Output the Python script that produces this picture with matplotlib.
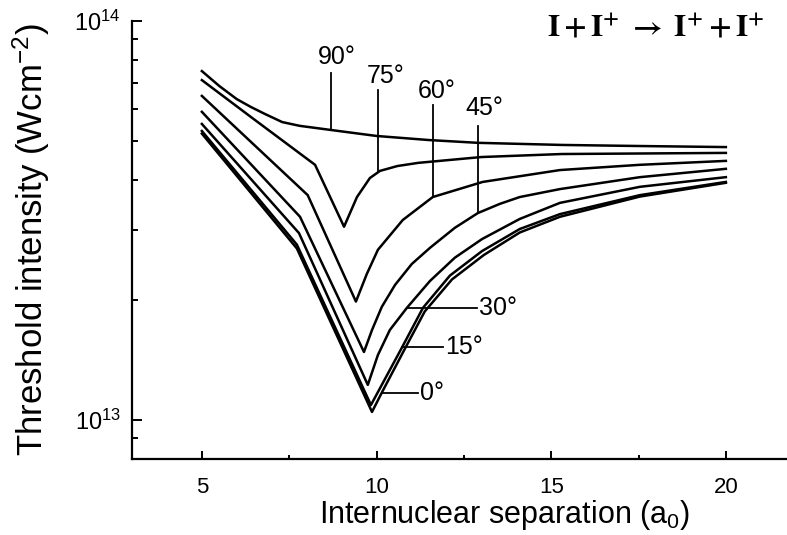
import numpy as np
import matplotlib
matplotlib.use("Agg")
import matplotlib.pyplot as plt
from matplotlib.ticker import FixedLocator, NullFormatter

plt.rcParams['font.family'] = ['Liberation Sans', 'DejaVu Sans']
plt.rcParams['mathtext.fontset'] = 'custom'
plt.rcParams['mathtext.rm'] = 'Liberation Sans'
plt.rcParams['mathtext.it'] = 'Liberation Sans:italic'
plt.rcParams['mathtext.bf'] = 'Liberation Sans:bold'

# Threshold intensity (in units of 1e13 W/cm^2) versus internuclear separation (a0)
# for several alignment angles of the molecular axis.
sep_90 = [5.0, 5.5, 6.0, 6.4, 6.8, 7.3, 7.8, 8.7, 10.0, 11.5, 12.9, 15.3, 17.5, 20.0]
thr_90 = [7.49, 6.87, 6.37, 6.09, 5.85, 5.58, 5.46, 5.33, 5.15, 5.03, 4.95, 4.89, 4.86, 4.83]

sep_75 = [5.0, 6.4, 8.24, 9.07, 9.44, 9.81, 10.1, 10.6, 11.2, 13.0, 15.3, 20.0]
thr_75 = [7.11, 5.75, 4.36, 3.05, 3.62, 4.04, 4.21, 4.33, 4.41, 4.56, 4.64, 4.67]

sep_60 = [5.0, 8.03, 9.41, 9.72, 10.04, 10.75, 11.61, 13.04, 15.25, 17.54, 20.0]
thr_60 = [6.49, 3.66, 1.98, 2.32, 2.67, 3.17, 3.62, 3.95, 4.23, 4.36, 4.46]

sep_45 = [5.0, 7.81, 9.64, 9.87, 10.15, 10.53, 11.01, 11.53, 12.24, 12.90, 13.53, 14.10, 15.25, 17.54, 20.0]
thr_45 = [5.92, 3.23, 1.48, 1.68, 1.92, 2.18, 2.46, 2.70, 3.03, 3.30, 3.48, 3.62, 3.79, 4.06, 4.26]

sep_30 = [5.0, 7.78, 9.75, 10.04, 10.38, 10.87, 11.53, 12.24, 13.02, 14.10, 15.25, 17.54, 20.0]
thr_30 = [5.52, 2.94, 1.224, 1.455, 1.68, 1.91, 2.23, 2.55, 2.84, 3.19, 3.50, 3.84, 4.06]

sep_15 = [5.0, 7.72, 9.84, 10.27, 10.73, 11.33, 12.10, 13.02, 14.10, 15.25, 17.54, 20.0]
thr_15 = [5.30, 2.75, 1.09, 1.28, 1.52, 1.91, 2.30, 2.65, 3.01, 3.28, 3.66, 3.95]

sep_0 = [5.0, 7.72, 9.87, 10.15, 10.78, 11.38, 12.16, 13.07, 14.10, 15.25, 17.54, 20.0]
thr_0 = [5.22, 2.69, 1.047, 1.17, 1.49, 1.87, 2.25, 2.59, 2.95, 3.23, 3.63, 3.93]

UNIT = 1e13
curves = {
    90: (sep_90, thr_90),
    75: (sep_75, thr_75),
    60: (sep_60, thr_60),
    45: (sep_45, thr_45),
    30: (sep_30, thr_30),
    15: (sep_15, thr_15),
    0: (sep_0, thr_0),
}

x_ticks = [5, 10, 15, 20]
x_tick_labels = ['5', '10', '15', '20']
x_minor = [7.5, 12.5, 17.5]
y_ticks = [1e13, 1e14]
y_tick_labels = [r'$10^{13}$', r'$10^{14}$']
y_minor = [8e12, 9e12] + [k * 1e13 for k in range(2, 10)]

fig = plt.figure(figsize=(7.87, 5.35), dpi=100)
ax = fig.add_axes([132 / 787, 1 - 459 / 535, 655 / 787, 438 / 535])

for ang, (xs, ys) in curves.items():
    ax.plot(xs, np.array(ys) * UNIT, color='black', lw=1.8, solid_joinstyle='round')

ax.set_yscale('log')
ax.set_xlim(3.0, 21.75)
ax.set_ylim(7.98e12, 1e14)

for side in ('top', 'right'):
    ax.spines[side].set_visible(False)
for side in ('left', 'bottom'):
    ax.spines[side].set_linewidth(1.6)

ax.set_xticks(x_ticks, labels=x_tick_labels)
ax.xaxis.set_minor_locator(FixedLocator(x_minor))
ax.xaxis.set_minor_formatter(NullFormatter())
ax.set_yticks(y_ticks, labels=y_tick_labels)
ax.yaxis.set_minor_locator(FixedLocator(y_minor))
ax.yaxis.set_minor_formatter(NullFormatter())

ax.tick_params(axis='both', which='both', direction='in', width=1.4, colors='black')
ax.tick_params(axis='x', which='major', length=6, pad=13, labelsize=16)
ax.tick_params(axis='x', which='minor', length=3)
ax.tick_params(axis='y', which='major', length=7, pad=8, labelsize=17)
ax.tick_params(axis='y', which='minor', length=4)

ax.set_xlabel(r'Internuclear separation (a$_0$)', fontsize=22, va='center')
ax.xaxis.set_label_coords(0.568, -0.128)
ax.set_ylabel(r'Threshold intensity (Wcm$^{-2}$)', fontsize=25, va='center')
ax.yaxis.set_label_coords(-0.154, 0.5)


def on_curve(ang, x):
    xs, ys = curves[ang]
    return UNIT * 10 ** np.interp(x, xs, np.log10(ys))


# Angle labels above the curves, joined by vertical leaders
top_labels = [
    (90, 8.69, 7.41e13, 8.32, 7.80e13),
    (75, 10.04, 6.71e13, 9.72, 6.99e13),
    (60, 11.61, 6.15e13, 11.18, 6.41e13),
    (45, 12.90, 5.46e13, 12.53, 5.81e13),
]
for ang, xl, ytop, xt, yt in top_labels:
    ax.plot([xl, xl], [ytop, on_curve(ang, xl)], color='black', lw=1.3)
    ax.text(xt, yt, f'{ang}°', fontsize=18, ha='left', va='baseline')

# Angle labels at the bottom of the valley, joined by horizontal leaders
side_labels = [
    (30, 10.87, 12.87, 1.91e13),
    (15, 10.73, 11.90, 1.52e13),
    (0, 10.15, 11.18, 1.17e13),
]
for ang, x0, x1, yl in side_labels:
    ax.plot([x0, x1], [yl, yl], color='black', lw=1.3)
    ax.text(x1 + 0.06, yl, f'{ang}°', fontsize=18, ha='left', va='center')

ax.text((547 - 132) / 655, (459 - 37) / 438,
        r'$\mathbf{I+I^{+}\ \rightarrow\ I^{+}+I^{+}}$',
        transform=ax.transAxes, fontsize=22, ha='left', va='baseline',
        math_fontfamily='stix')

fig.savefig('out.png', dpi=100)
